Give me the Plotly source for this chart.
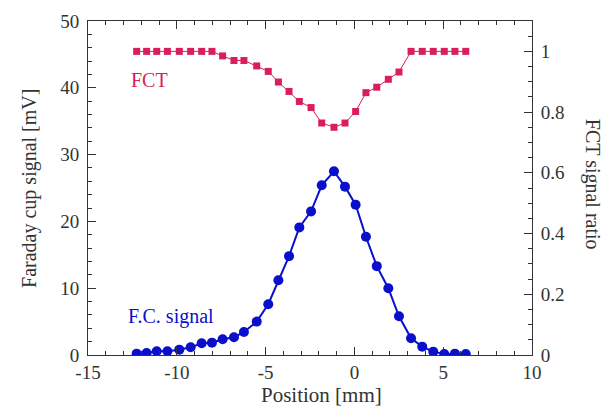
import plotly.graph_objects as go

position_mm = [-12.26, -11.70, -11.13, -10.53, -9.86, -9.22, -8.60, -8.02, -7.42, -6.78,
               -6.22, -5.50, -4.85, -4.28, -3.68, -3.10, -2.44, -1.84, -1.15, -0.53,
               0.07, 0.65, 1.26, 1.91, 2.51, 3.19, 3.82, 4.44, 5.06, 5.66, 6.27]
fc_signal_mv = [0.2, 0.3, 0.55, 0.55, 0.8, 1.15, 1.75, 1.85, 2.35, 2.65,
                3.45, 5.0, 7.6, 11.2, 14.8, 19.1, 21.5, 25.4, 27.5, 25.2,
                22.5, 17.7, 13.3, 10.0, 5.8, 2.5, 1.25, 0.5, 0.15, 0.2, 0.15]
fct_ratio = [1.0, 1.0, 1.0, 1.0, 1.0, 1.0, 1.0, 1.0, 0.985, 0.97,
             0.97, 0.952, 0.934, 0.899, 0.868, 0.835, 0.815, 0.764, 0.75, 0.764,
             0.802, 0.864, 0.882, 0.908, 0.932, 1.0, 1.0, 1.0, 1.0, 1.0, 1.0]

x_ticks = [-15, -10, -5, 0, 5, 10]
x_tick_labels = ["-15", "-10", "-5", "0", "5", "10"]
y_ticks = [0, 10, 20, 30, 40, 50]
y2_ticks = [0, 0.2, 0.4, 0.6, 0.8, 1]
y2_tick_labels = ["0", "0.2", "0.4", "0.6", "0.8", "1"]

BLUE = "#0a0fcc"
RED = "#d81e5b"
AX = "#333333"
FONT = "Liberation Serif"

fig = go.Figure()
fig.add_trace(go.Scatter(
    x=position_mm, y=fc_signal_mv, mode="lines+markers",
    line=dict(color=BLUE, width=2),
    marker=dict(color=BLUE, size=10, symbol="circle"),
    yaxis="y", showlegend=False))
fig.add_trace(go.Scatter(
    x=position_mm, y=fct_ratio, mode="lines+markers",
    line=dict(color=RED, width=1),
    marker=dict(color=RED, size=7, symbol="square"),
    yaxis="y2", showlegend=False))

axis_common = dict(showline=True, linecolor=AX, linewidth=1, ticks="inside",
                   ticklen=8, tickcolor=AX, showgrid=False, zeroline=False,
                   tickfont=dict(family=FONT, size=19, color=AX))

fig.update_layout(
    width=610, height=407,
    margin=dict(l=88, r=78, t=21, b=52),
    paper_bgcolor="white", plot_bgcolor="white",
    font=dict(family=FONT, color=AX),
    xaxis=dict(range=[-15, 10], tickvals=x_ticks, ticktext=x_tick_labels, mirror="ticks",
               minor=dict(dtick=1, ticks="inside", ticklen=4, tickcolor=AX),
               **axis_common),
    yaxis=dict(range=[0, 50], tickvals=y_ticks, ticklabelstandoff=4,
               minor=dict(dtick=2, ticks="inside", ticklen=4, tickcolor=AX),
               **axis_common),
    yaxis2=dict(range=[0, 1.1], tickvals=y2_ticks, ticktext=y2_tick_labels,
                overlaying="y", side="right", ticklabelstandoff=4,
                minor=dict(dtick=0.05, ticks="inside", ticklen=4, tickcolor=AX),
                **axis_common),
    annotations=[
        dict(text="Position [mm]", xref="paper", yref="paper", x=0.527, y=-0.12,
             xanchor="center", yanchor="middle", showarrow=False,
             font=dict(family=FONT, size=21, color=AX)),
        dict(text="Faraday cup signal [mV]", xref="paper", yref="paper", x=-0.133, y=0.5,
             xanchor="center", yanchor="middle", textangle=-90, showarrow=False,
             font=dict(family=FONT, size=20, color=AX)),
        dict(text="FCT signal ratio", xref="paper", yref="paper", x=1.137, y=0.51,
             xanchor="center", yanchor="middle", textangle=90, showarrow=False,
             font=dict(family=FONT, size=20, color=AX)),
        dict(text="FCT", x=-11.55, y=41.2, xref="x", yref="y", showarrow=False,
             font=dict(family=FONT, size=20, color=RED)),
        dict(text="F.C. signal", x=-10.3, y=5.7, xref="x", yref="y", showarrow=False,
             font=dict(family=FONT, size=20, color=BLUE)),
    ],
)

fig.write_html("out.html", config={"displayModeBar": False},
               post_script="document.body.style.margin='0';document.body.style.overflow='hidden';")
